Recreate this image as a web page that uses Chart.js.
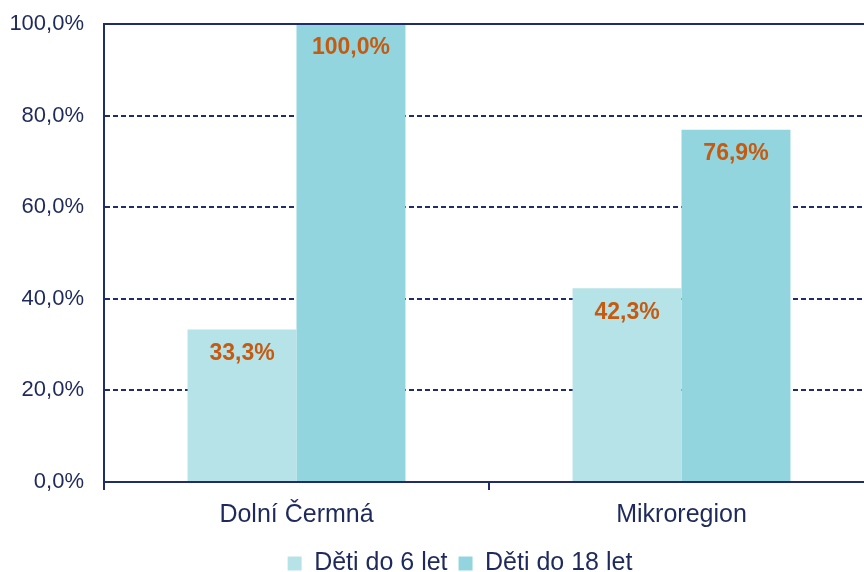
<!DOCTYPE html>
<html><head><meta charset="utf-8">
<script src="https://cdn.jsdelivr.net/npm/chart.js@4"></script>
<style>
html,body{margin:0;padding:0;overflow:hidden;background:#fff;width:864px;height:572px}
#wrap{position:absolute;left:0;top:0;width:920px;height:586px}
</style>
</head><body>
<div id="wrap"><canvas id="c" width="920" height="586"></canvas></div>
<script>
const categories = ['Dolní Čermná', 'Mikroregion'];
const seriesNames = ['Děti do 6 let', 'Děti do 18 let'];
const under6 = [33.3, 42.3];
const under18 = [100.0, 76.9];
const yTickValues = [0, 20, 40, 60, 80, 100];

const NAVY = '#1F2D6B';
const TEXT = '#1F2A5C';
const fmt = v => v.toFixed(1).replace('.', ',') + '%';

const labelPlugin = {
  id: 'barLabels',
  afterDatasetsDraw(chart) {
    const ctx = chart.ctx;
    ctx.save();
    ctx.font = 'bold 23px "Liberation Sans", Arial, sans-serif';
    ctx.fillStyle = '#C55A11';
    ctx.textAlign = 'center';
    ctx.textBaseline = 'middle';
    chart.data.datasets.forEach((ds, di) => {
      chart.getDatasetMeta(di).data.forEach((bar, i) => {
        ctx.fillText(fmt(ds.data[i]), bar.x, bar.y + 24);
      });
    });
    ctx.restore();
  }
};

const topBorderPlugin = {
  id: 'topBorder',
  afterDraw(chart) {
    const { ctx, chartArea } = chart;
    ctx.save();
    ctx.strokeStyle = NAVY;
    ctx.lineWidth = 2;
    ctx.beginPath();
    ctx.moveTo(chartArea.left, chartArea.top);
    ctx.lineTo(chartArea.right, chartArea.top);
    ctx.stroke();
    ctx.restore();
  }
};

new Chart(document.getElementById('c'), {
  type: 'bar',
  data: {
    labels: categories,
    datasets: [
      { label: seriesNames[0], data: under6, backgroundColor: '#B6E3E8', borderWidth: 0 },
      { label: seriesNames[1], data: under18, backgroundColor: '#92D5DE', borderWidth: 0 }
    ]
  },
  plugins: [labelPlugin, topBorderPlugin],
  options: {
    responsive: false,
    animation: false,
    events: [],
    layout: { padding: { top: 24, left: 0, right: 0, bottom: 0 } },
    datasets: { bar: { barPercentage: 1, categoryPercentage: 0.566 } },
    plugins: {
      tooltip: { enabled: false },
      legend: {
        position: 'bottom',
        labels: {
          font: { family: '"Liberation Sans", Arial, sans-serif', size: 25 },
          color: TEXT,
          boxWidth: 14,
          boxHeight: 14,
          padding: 11
        }
      }
    },
    scales: {
      x: {
        grid: { drawOnChartArea: false, drawTicks: true, tickLength: 8, color: NAVY, lineWidth: 2 },
        border: { color: NAVY, width: 2 },
        ticks: { font: { family: '"Liberation Sans", Arial, sans-serif', size: 25 }, color: TEXT, padding: 10 }
      },
      y: {
        min: 0, max: 100,
        afterBuildTicks(s) { s.ticks = yTickValues.map(v => ({ value: v })); },
        grid: { drawTicks: true, tickLength: 20, tickColor: 'rgba(0,0,0,0)', color: NAVY, lineWidth: 2 },
        border: { color: NAVY, width: 2, dash: [5, 3] },
        ticks: { callback: v => fmt(v), font: { family: '"Liberation Sans", Arial, sans-serif', size: 22 }, color: TEXT, padding: 0 },
        afterFit(s) { s.width = 104; }
      },
      yR: {
        position: 'right',
        grid: { display: false, drawTicks: false },
        border: { display: false },
        ticks: { display: false },
        afterFit(s) { s.width = 46; }
      }
    }
  }
});
</script>
</body></html>
